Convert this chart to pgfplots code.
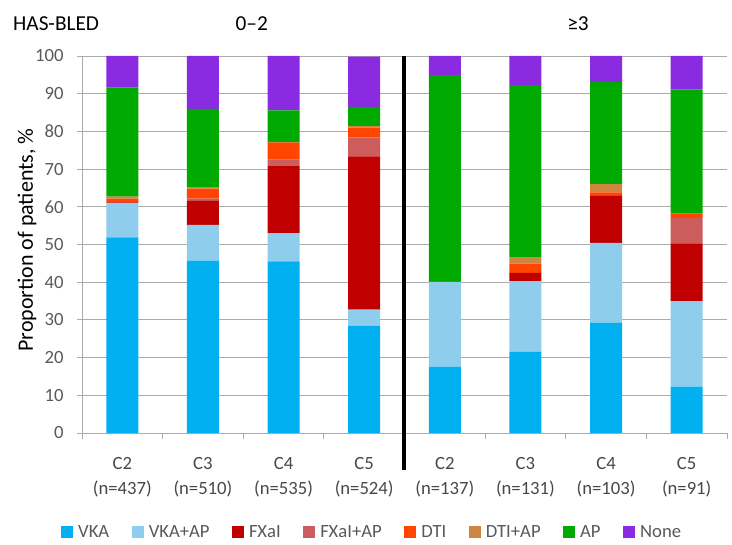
\documentclass[border=0pt]{standalone}
\usepackage{pgfplots}
\pgfplotsset{compat=1.18}
\usepackage{fontspec}
\setmainfont{Carlito}
\definecolor{cVKA}{HTML}{00B0F0}
\definecolor{cVKAAP}{HTML}{8ECDEB}
\definecolor{cFXaI}{HTML}{C00000}
\definecolor{cFXaIAP}{HTML}{CD5C5C}
\definecolor{cDTI}{HTML}{FF4500}
\definecolor{cDTIAP}{HTML}{CD853F}
\definecolor{cAP}{HTML}{00AA00}
\definecolor{cNone}{HTML}{8A2BE2}
\definecolor{gridgray}{HTML}{ABABAB}
\definecolor{txtgray}{HTML}{595959}
\begin{document}
\begin{tikzpicture}[x=1pt,y=1pt]
\path[use as bounding box] (-82,-112) rectangle (650,433);
\begin{axis}[at={(0,0)},anchor=south west,
  width=645pt,height=377pt,scale only axis,
  ybar stacked, bar width=32pt,
  xmin=-0.5,xmax=7.5,ymin=0,ymax=100,
  clip=false,
  ytick={0,10,...,100},
  xtick={0,1,...,7},
  xticklabels={{C2\\(n=437)},{C3\\(n=510)},{C4\\(n=535)},{C5\\(n=524)},{C2\\(n=137)},{C3\\(n=131)},{C4\\(n=103)},{C5\\(n=91)}},
  xticklabel style={align=center,font=\fontsize{18.67}{25}\selectfont,text=txtgray!80!black,yshift=-16pt},
  yticklabel style={font=\fontsize{18.67}{22}\selectfont,text=txtgray,xshift=-10pt},
  /pgf/number format/assume math mode=true,
  major x tick style={draw=none},
  minor xtick={-0.5,0.5,...,7.5},
  minor x tick style={draw=gridgray,line width=0.8pt},
  major y tick style={draw=gridgray,line width=0.8pt},
  tick align=outside, major tick length=5pt, minor tick length=6pt,
  axis x line*=bottom, axis y line*=left,
  axis line style={draw=gridgray,line width=0.8pt,-},
  ymajorgrids, grid style={draw=gridgray,line width=0.8pt},
  legend columns=8,
  legend style={draw=none,at={(rel axis cs:-0.0326,-0.2626)},anchor=west,
    font=\fontsize{18.67}{22}\selectfont,text=txtgray,inner sep=0pt,
    nodes={inner xsep=5pt,inner ysep=2pt},
    /tikz/every even column/.append style={column sep=17.5pt}},
  legend image code/.code={\fill[#1] (0pt,-6pt) rectangle (12pt,6pt);},
  every axis plot/.append style={draw=none},
]
\addplot[fill=cVKA] coordinates {(0,51.9) (1,45.7) (2,45.5) (3,28.5) (4,17.6) (5,21.5) (6,29.2) (7,12.3)};
\addplot[fill=cVKAAP] coordinates {(0,9.1) (1,9.5) (2,7.5) (3,4.2) (4,22.5) (5,18.8) (6,21.2) (7,22.7)};
\addplot[fill=cFXaI] coordinates {(0,0.2) (1,6.4) (2,17.8) (3,40.7) (4,0) (5,2.2) (6,12.6) (7,15.3)};
\addplot[fill=cFXaIAP] coordinates {(0,0.1) (1,0.6) (2,1.7) (3,5.0) (4,0) (5,0) (6,0) (7,6.7)};
\addplot[fill=cDTI] coordinates {(0,0.9) (1,2.6) (2,4.6) (3,2.6) (4,0) (5,2.4) (6,0.8) (7,1.2)};
\addplot[fill=cDTIAP] coordinates {(0,0.5) (1,0.4) (2,0) (3,0.4) (4,0) (5,1.6) (6,2.2) (7,0)};
\addplot[fill=cAP] coordinates {(0,28.9) (1,20.8) (2,8.5) (3,5.1) (4,54.8) (5,45.8) (6,27.1) (7,32.9)};
\addplot[fill=cNone] coordinates {(0,8.4) (1,14.0) (2,14.4) (3,13.3) (4,5.1) (5,7.7) (6,6.9) (7,8.9)};
\legend{VKA,VKA+AP,FXaI,FXaI+AP,DTI,DTI+AP,AP,None}
\draw[black,line width=4pt] (axis cs:3.5,100) -- ([yshift=-37pt]axis cs:3.5,0);
\end{axis}
\node[anchor=base west,font=\fontsize{21.3}{25}\selectfont,inner sep=0pt] at (-69,402) {HAS-BLED};
\node[anchor=base,font=\fontsize{21.3}{25}\selectfont,inner sep=0pt] at (169.7,402) {0–2};
\node[anchor=base,font=\fontsize{21.3}{25}\selectfont,inner sep=0pt] at (496,402) {≥3};
\node[rotate=90,font=\fontsize{22}{25}\selectfont,inner sep=0pt] at (-55,193) {Proportion of patients, \%};
\end{tikzpicture}
\end{document}
